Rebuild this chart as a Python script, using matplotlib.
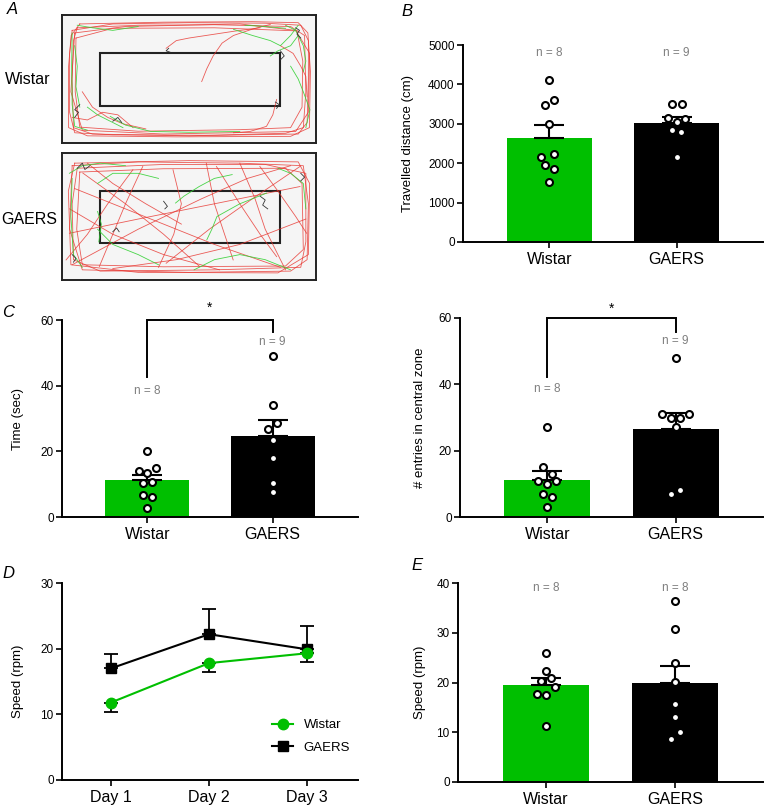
import numpy as np
import matplotlib
matplotlib.use('Agg')
from matplotlib import pyplot as plt
from matplotlib.patches import Rectangle

plt.rcParams['font.family'] = ['Liberation Sans', 'DejaVu Sans']

GREEN = '#00bf00'
GREY = '#7f7f7f'

groups = ['Wistar', 'GAERS']

# B: travelled distance
dist_mean = [2650, 3010]
dist_sem = [310, 160]
dist_pts_w = [4120, 3600, 3480, 3000, 2230, 2170, 1950, 1850, 1530]
dist_pts_g = [3500, 3500, 3150, 3130, 3050, 2850, 2800, 2150]
dist_n = ['n = 8', 'n = 9']

# C left: time in central zone
time_mean = [11.2, 24.6]
time_sem = [1.7, 4.8]
time_pts_w = [20.1, 15.0, 14.0, 13.5, 10.8, 10.3, 6.8, 6.0, 2.8]
time_pts_g = [49.0, 34.2, 28.7, 26.7, 23.4, 18.0, 10.5, 7.5]
time_n = ['n = 8', 'n = 9']

# C right: entries in central zone
entr_mean = [11.3, 26.5]
entr_sem = [2.5, 4.8]
entr_pts_w = [27, 15, 13, 11, 10, 11, 7, 6, 3]
entr_pts_g = [48, 31, 30, 30, 31, 27.2, 7, 8]
entr_n = ['n = 8', 'n = 9']

# D: speed across days
days = ['Day 1', 'Day 2', 'Day 3']
speed_w = [11.8, 17.8, 19.3]
speed_w_sem = [1.4, 1.3, 1.4]
speed_g = [17.0, 22.2, 19.9]
speed_g_sem = [2.2, 3.9, 3.5]

# E: mean speed
spd_mean = [19.4, 19.8]
spd_sem = [1.5, 3.6]
spd_pts_w = [26.0, 22.3, 21.0, 20.3, 19.0, 17.7, 17.4, 11.3]
spd_pts_g = [36.3, 30.7, 24.0, 20.2, 15.6, 13.0, 10.0, 8.7]
spd_n = ['n = 8', 'n = 8']

# horizontal jitter of the dots (as seen in the picture)
dist_dx_w = [0, 0.034, -0.034, 0, 0.034, -0.068, -0.034, 0.034, 0]
dist_dx_g = [-0.034, 0.04, -0.07, 0.07, 0, -0.034, 0.034, 0]
time_dx_w = [0, 0.07, -0.07, 0, 0.035, -0.035, -0.035, 0.035, 0]
time_dx_g = [0, 0, 0.033, -0.036, 0, 0, 0, 0]
entr_dx_w = [0, -0.034, 0.04, -0.07, 0, 0.07, -0.034, 0.04, 0]
entr_dx_g = [0, -0.104, -0.036, 0.034, 0.104, 0, -0.036, 0.034]
spd_dx_w = [0, 0, 0.036, -0.036, 0.07, -0.07, 0, 0]
spd_dx_g = [0, 0, 0, 0, 0, 0, 0.034, -0.034]

# A: tracks, chamber coords 0-100 x 0-50
wistar_red = [
    [(4, 44), (20, 46.5), (50, 47), (80, 46.8), (94, 46), (97, 40), (97, 25), (96.5, 8), (93, 3.5), (60, 3), (20, 3.2), (5, 4), (3, 12), (3, 35), (4, 44)],
    [(6, 45), (30, 46), (60, 46.2), (90, 45.5), (95.5, 42), (96, 20), (95, 6), (88, 3.8), (50, 2.8), (12, 3.5), (4.5, 6), (4, 25), (4.5, 40), (6, 45)],
    [(5, 43), (25, 45.5), (70, 46.5), (92, 44), (97.5, 35), (97, 12), (92, 4.5), (40, 3.5), (8, 5), (3.5, 20), (5, 43)],
    [(7, 46.5), (40, 47.2), (75, 47.4), (93, 47), (96.8, 43), (97.8, 28), (97.4, 6), (90, 2.6), (45, 2.4), (10, 2.8), (2.6, 6), (2.6, 30), (3.6, 42), (7, 46.5)],
    [(5.5, 41), (5.2, 20), (7, 6.2), (30, 4.6), (70, 5.2), (90, 6), (94.5, 14), (94.8, 32), (92.5, 43.8), (60, 45), (20, 44.8), (5.5, 41)],
    [(55, 24), (57, 29), (59.5, 34), (63, 39), (67.5, 42), (75, 44.5), (82, 46.3)],
    [(41, 37), (45, 40), (50, 41), (60, 42.5), (68, 43.7), (78, 45)],
    [(84.5, 17), (83, 11), (80.5, 6.5), (74, 4.5), (67.5, 4)],
    [(86, 38), (91, 35), (94, 30), (96, 26), (96.5, 18)],
    [(4, 10), (10, 9), (16, 12), (22, 11), (28, 6)],
    [(8, 20), (12, 14), (18, 10), (24, 7.5), (33, 5.5)],
]
wistar_green = [
    [(4, 43), (3.8, 30), (4, 15), (5, 6.5), (10, 5)],
    [(67.5, 44.4), (75, 42), (82, 40), (86, 38), (90, 42), (93, 46)],
    [(90, 30), (93, 25), (95, 20), (97.6, 13), (96, 6)],
    [(19, 10.4), (25, 7), (35, 4.5), (50, 4.2), (70, 4.5)],
    [(6, 46), (12, 45), (20, 44), (30, 45.5)],
    [(82, 34), (85, 36), (90, 38), (93, 42)],
    [(10, 14), (14, 11), (20, 8), (24, 6)],
    [(88, 46), (92, 44), (95, 38), (96, 32), (95, 28)],
    [(5, 38), (6, 30), (5.5, 22), (7, 14)],
    [(72, 46), (80, 45.5), (88, 44.8)],
]
wistar_black = [
    [(5, 10), (6.5, 12), (5, 13), (7, 15)],
    [(92, 45), (93.5, 44), (92.5, 42.5), (94, 41)],
    [(86, 36), (87.5, 34), (86, 32.5)],
    [(42, 37), (41, 36), (42.5, 35.5)],
    [(84, 16), (85.5, 15), (84.5, 13.5)],
    [(20, 8.5), (22, 10), (23.5, 8)],
]
gaers_red = [
    [(4, 45), (30, 46.5), (70, 46), (95, 45), (97, 30), (96.5, 8), (90, 3.5), (50, 3), (8, 4), (3, 20), (4, 45)],
    [(6, 44), (40, 45.5), (80, 45.5), (96, 42), (96, 15), (94, 5), (60, 4), (15, 3.5), (4.5, 8), (4, 30), (6, 44)],
    [(5, 46), (50, 47), (93, 46.5), (97.5, 38), (97, 10), (85, 2.8), (30, 3), (3.5, 6), (2.5, 35), (5, 46)],
    [(7, 42.5), (40, 43.8), (88, 44), (94.5, 38), (95, 12), (88, 5.5), (40, 5.2), (8, 6), (5.8, 20), (7, 42.5)],
    [(5, 36), (30, 26), (60, 14), (86, 5)],
    [(56.8, 46), (60, 30), (64, 18), (67.4, 7.9)],
    [(31.8, 44.7), (25, 30), (20, 18), (14.7, 5.3)],
    [(60.8, 44.7), (70, 30), (78, 18), (84.5, 9.2)],
    [(8.2, 42.1), (25, 30), (40, 18), (54.2, 5.3)],
    [(93.7, 44.7), (75, 32), (58, 20), (41, 6.6)],
    [(2.9, 18.4), (30, 24), (60, 30), (93.7, 36.8)],
    [(27.9, 43.4), (18, 30), (10, 18), (1.6, 7.9)],
    [(77.9, 44.7), (85, 35), (92, 25), (96.3, 18.4)],
    [(4, 6), (30, 20), (55, 32), (73, 40), (90, 45)],
    [(43.7, 43.4), (47, 30), (44, 18), (38, 5)],
    [(10, 46), (20, 38), (33, 30), (47, 22)],
    [(70, 46), (76, 32), (80, 20), (88, 4)],
    [(3, 28), (20, 18), (40, 10), (62, 4)],
    [(96, 24), (70, 14), (45, 8), (20, 4.5)],
]
gaers_green = [
    [(2.9, 42), (8, 45), (15, 46), (25, 45)],
    [(44.7, 30.3), (48, 33), (54, 36.8), (60, 40), (67, 41.5)],
    [(57, 15.8), (59, 20), (61, 25), (70, 30), (80.5, 34.2)],
    [(4, 40), (3.5, 25), (4.5, 10), (8, 5)],
    [(14, 20), (20, 14), (30, 10), (38, 6)],
    [(85, 44), (90, 42), (95, 38), (96, 28)],
    [(52, 4), (60, 8), (70, 10), (80, 8), (90, 4)],
    [(14, 38), (20, 42), (30, 42), (38, 40)],
    [(14, 27), (15.5, 22), (14.5, 15)],
]
gaers_black = [
    [(6, 44), (8, 46), (9, 43.5), (11, 45)],
    [(78, 33), (80, 31.5), (79, 29.5), (81, 28)],
    [(40, 31), (41.5, 29), (40.5, 28)],
    [(20, 19), (21.5, 20.5), (22.5, 19)],
    [(94, 42), (95.5, 40.5), (94, 39)],
    [(4, 10), (5.5, 8.5), (4.5, 7)],
]


def fig_rect(x0, y0, x1, y1):
    return [x0 / 765, 1 - y1 / 811, (x1 - x0) / 765, (y1 - y0) / 811]


def style_axes(ax):
    for s in ['top', 'right']:
        ax.spines[s].set_visible(False)
    for s in ['left', 'bottom']:
        ax.spines[s].set_linewidth(1.4)
    ax.tick_params(axis='y', labelsize=8.5, width=1.2, length=4, pad=2)
    ax.tick_params(axis='x', labelsize=11.5, width=1.2, length=4, pad=3)


def bar_panel(ax, means, sems, pts_w, dx_w, pts_g, dx_g, ylim, yticks, ylabel, lab_x):
    ax.bar([0, 1], means, width=0.67, color=[GREEN, 'black'], zorder=1)
    for i in range(2):
        ax.errorbar(i, means[i], yerr=[[0], [sems[i]]], fmt='none', ecolor='black',
                    elinewidth=1.5, capsize=11, capthick=1.5, zorder=2)
    ax.plot(np.array(dx_w), pts_w, 'o', ms=5, mfc='white', mec='black', mew=1.5,
            zorder=3, clip_on=False)
    ax.plot(1 + np.array(dx_g), pts_g, 'o', ms=5, mfc='white', mec='black', mew=1.5,
            zorder=3, clip_on=False)
    ax.set_xlim(-0.68, 1.68)
    ax.set_ylim(*ylim)
    ax.set_yticks(yticks)
    ax.set_xticks([0, 1])
    ax.set_xticklabels(groups)
    ax.set_ylabel(ylabel, fontsize=9.5)
    ax.yaxis.set_label_coords(lab_x, 0.5)
    style_axes(ax)


def n_labels(ax, texts, ys):
    for i in range(2):
        ax.text(i, ys[i], texts[i], ha='center', va='center', fontsize=8.5, color=GREY)


def bracket(ax, y_left, y_right, top, star_y):
    ax.plot([0, 0, 1, 1], [y_left, top, top, y_right], color='black', lw=1.4,
            clip_on=False, solid_joinstyle='miter')
    ax.text(0.5, star_y, '*', ha='center', va='center', fontsize=10)


fig = plt.figure(figsize=(7.65, 8.11), dpi=100)

# ---- A ----
for (rect, reds, greens, blacks) in [((62, 15, 316, 143), wistar_red, wistar_green, wistar_black),
                                     ((62, 153, 316, 280), gaers_red, gaers_green, gaers_black)]:
    ax = fig.add_axes(fig_rect(*rect))
    ax.set_facecolor('#f5f5f5')
    for p in reds:
        p = np.array(p)
        ax.plot(p[:, 0], p[:, 1], color='#e8342e', lw=0.6, alpha=0.8)
    for p in greens:
        p = np.array(p)
        ax.plot(p[:, 0], p[:, 1], color='#35d135', lw=0.6, alpha=0.9)
    for p in blacks:
        p = np.array(p)
        ax.plot(p[:, 0], p[:, 1], color='#333333', lw=0.6)
    ax.add_patch(Rectangle((15, 14.5), 71, 20.5, fill=False, ec='#222222', lw=1.5))
    ax.set_xlim(0, 100)
    ax.set_ylim(0, 50)
    ax.set_xticks([])
    ax.set_yticks([])
    for s in ax.spines.values():
        s.set_linewidth(1.4)
        s.set_color('#222222')

fig.text(28 / 765, 1 - 80 / 811, 'Wistar', ha='center', va='center', fontsize=11.5)
fig.text(29 / 765, 1 - 219 / 811, 'GAERS', ha='center', va='center', fontsize=11.5)

# ---- B ----
axB = fig.add_axes(fig_rect(463, 45, 763, 242))
bar_panel(axB, dist_mean, dist_sem, dist_pts_w, dist_dx_w, dist_pts_g, dist_dx_g,
          (0, 5000), [0, 1000, 2000, 3000, 4000, 5000], 'Travelled distance (cm)', -0.163)
n_labels(axB, dist_n, [4790, 4790])

# ---- C left ----
axC1 = fig.add_axes(fig_rect(62, 320, 358, 517))
bar_panel(axC1, time_mean, time_sem, time_pts_w, time_dx_w, time_pts_g, time_dx_g,
          (0, 60), [0, 20, 40, 60], 'Time (sec)', -0.128)
n_labels(axC1, time_n, [38.4, 53.3])
bracket(axC1, 42.6, 56.3, 60, 63.6)

# ---- C right ----
axC2 = fig.add_axes(fig_rect(460, 318, 763, 517))
bar_panel(axC2, entr_mean, entr_sem, entr_pts_w, entr_dx_w, entr_pts_g, entr_dx_g,
          (0, 60), [0, 20, 40, 60], '# entries in central zone', -0.112)
n_labels(axC2, entr_n, [38.5, 53.0])
bracket(axC2, 42.2, 55.8, 60, 62.8)

# ---- D ----
axD = fig.add_axes(fig_rect(62, 583, 358, 780))
x = np.arange(len(days))
axD.errorbar(x, speed_w, yerr=[speed_w_sem, [0, 0, 0]], fmt='none', ecolor='black',
             elinewidth=1.3, capsize=5, capthick=1.3, zorder=2)
axD.errorbar(x, speed_g, yerr=[[0, 0, 0], speed_g_sem], fmt='none', ecolor='black',
             elinewidth=1.3, capsize=5, capthick=1.3, zorder=2)
axD.plot(x, speed_g, '-s', color='black', ms=7, lw=1.5, label='GAERS', zorder=3)
axD.plot(x, speed_w, '-o', color=GREEN, ms=7.5, lw=1.5, label='Wistar', zorder=4)
axD.set_xlim(-0.5, 2.52)
axD.set_ylim(0, 30)
axD.set_yticks([0, 10, 20, 30])
axD.set_xticks(x)
axD.set_xticklabels(days)
axD.set_ylabel('Speed (rpm)', fontsize=9.5)
axD.yaxis.set_label_coords(-0.128, 0.5)
style_axes(axD)
h, l = axD.get_legend_handles_labels()
axD.legend([h[1], h[0]], [l[1], l[0]], loc='upper left', bbox_to_anchor=(0.67, 0.37),
           frameon=False, fontsize=9.5, handlelength=1.6, handletextpad=0.8,
           labelspacing=0.8)

# ---- E ----
axE = fig.add_axes(fig_rect(458, 583, 763, 782))
bar_panel(axE, spd_mean, spd_sem, spd_pts_w, spd_dx_w, spd_pts_g, spd_dx_g,
          (0, 40), [0, 10, 20, 30, 40], 'Speed (rpm)', -0.105)
n_labels(axE, spd_n, [38.9, 38.9])

# panel letters
for letter, px, py in [('A', 12, 10), ('B', 407, 12), ('C', 8, 312), ('D', 8, 573), ('E', 417, 565)]:
    fig.text(px / 765, 1 - py / 811, letter, ha='center', va='center', fontsize=12,
             style='italic')

fig.savefig('out.png', dpi=100)
